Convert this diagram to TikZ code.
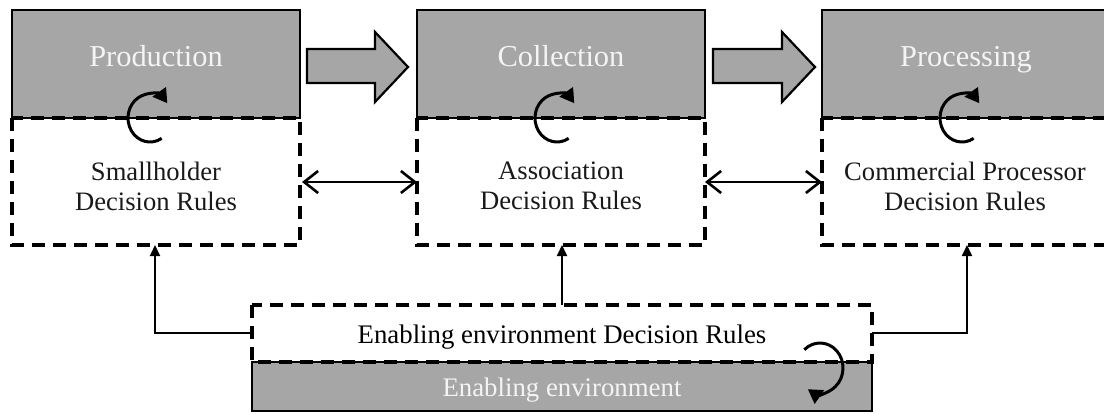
\documentclass[tikz,border=0pt]{standalone}
\usepackage{fontspec}
\setmainfont{Liberation Serif}
\usetikzlibrary{arrows.meta}
\definecolor{stagegray}{HTML}{A6A6A6}
\definecolor{stagetext}{HTML}{F4F4F4}
\tikzset{
  stagebox/.style={draw=black, line width=1.1pt, fill=stagegray},
  rulebox/.style={draw=black, line width=1.6pt, dash pattern=on 6.5pt off 4pt},
  stagelabel/.style={text=stagetext, font=\fontsize{15.2pt}{18pt}\selectfont, inner sep=0pt, anchor=base},
  rulelabel/.style={text=black!90, font=\fontsize{13.3pt}{15pt}\selectfont, align=center, inner sep=0pt},
  envlabel/.style={font=\fontsize{13.4pt}{15pt}\selectfont, inner sep=0pt, anchor=base},
  flowarrow/.style={draw=black, line width=1.1pt, fill=stagegray, line join=miter},
  linkarrow/.style={line width=1.3pt, {Straight Barb[length=7pt,width=11pt]}-{Straight Barb[length=7pt,width=11pt]}},
  influence/.style={line width=0.9pt, -{Triangle[length=5.5pt,width=5pt]}},
  loop/.style={line width=1.5pt, -{Triangle[length=7pt,width=8pt]}},
}
\begin{document}
\begin{tikzpicture}[x=0.5pt, y=-0.5pt]
\useasboundingbox (0,0) rectangle (1104,413);
\clip (0,0) rectangle (1104,413);

% supply-chain stages and their decision-rule panels
\foreach \n/\cx in {prod/156, coll/561, proc/966}{
  \coordinate (\n-nw) at (\cx-144,10);
  \coordinate (\n-se) at (\cx+144,118);
  \coordinate (\n-rse) at (\cx+144,245);
}
\draw[stagebox] (prod-nw) rectangle (prod-se);
\draw[stagebox] (coll-nw) rectangle (coll-se);
\draw[stagebox] (proc-nw) rectangle (proc-se);
\draw[rulebox] (prod-nw |- prod-se) rectangle (prod-rse);
\draw[rulebox] (coll-nw |- coll-se) rectangle (coll-rse);
\draw[rulebox] (proc-nw |- proc-se) rectangle (proc-rse);

\node[stagelabel] (prodt) at (156,66) {Production};
\node[stagelabel] (collt) at (561,66) {Collection};
\node[stagelabel] (proct) at (966,66) {Processing};

\node[rulelabel] (prodr) at (156,186) {Smallholder\\Decision Rules};
\node[rulelabel] (collr) at (561,186) {Association\\Decision Rules};
\node[rulelabel] (procr) at (965,186) {Commercial Processor\\Decision Rules};

% block arrows between stages
\draw[flowarrow] (307,49) -- (375,49) -- (375,32) -- (408,67) -- (375,102) -- (375,83) -- (307,83) -- cycle;
\draw[flowarrow] (713,49) -- (782,49) -- (782,32) -- (815,67) -- (782,102) -- (782,83) -- (713,83) -- cycle;

% two-way links between decision-rule panels
\coordinate (l1a) at (302,182);
\coordinate (l1b) at (417,182);
\coordinate (l2a) at (705,182);
\coordinate (l2b) at (822,182);
\draw[linkarrow] (l1a) -- (l1b);
\draw[linkarrow] (l2a) -- (l2b);

% feedback loops
\draw[loop] (150,118) ++(58:22 and 24) arc[start angle=58, end angle=322, x radius=22, y radius=24];
\draw[loop] (557,118) ++(58:22 and 24) arc[start angle=58, end angle=322, x radius=22, y radius=24];
\draw[loop] (962,118) ++(58:22 and 24) arc[start angle=58, end angle=322, x radius=22, y radius=24];

% enabling environment
\coordinate (env-nw) at (252,305);
\coordinate (env-mid) at (872,362);
\coordinate (env-se) at (872,411);
\draw[stagebox] (env-nw |- env-mid) rectangle (env-se);
\draw[rulebox] (env-nw) rectangle (env-mid);
\node[envlabel] (envr) at (562,343) {Enabling environment Decision Rules};
\node[envlabel, text=stagetext] (envt) at (562,396) {Enabling environment};
\draw[loop] (820,368) ++(-133:23 and 25) arc[start angle=-133, end angle=122, x radius=23, y radius=25];

% influence of the enabling environment on each panel
\coordinate (envL) at (252,333);
\coordinate (envR) at (872,333);
\coordinate (envT) at (562,305);
\draw[influence] (envL) -- (155,333) -- (155,245);
\draw[influence] (envT) -- (562,245);
\draw[influence] (envR) -- (967,333) -- (967,245);
\end{tikzpicture}
\end{document}
